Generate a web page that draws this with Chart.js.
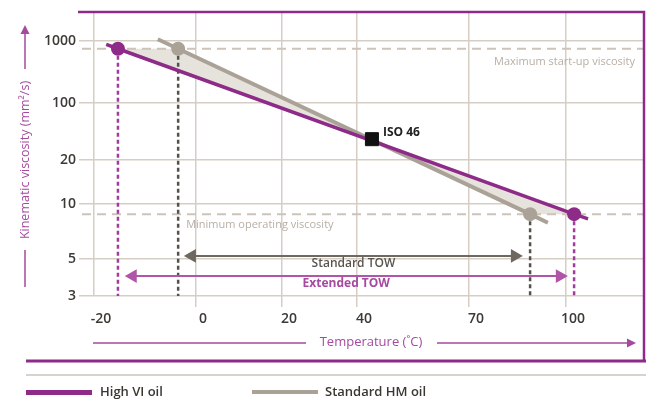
<!DOCTYPE html>
<html>
<head>
<meta charset="utf-8">
<script src="https://cdn.jsdelivr.net/npm/chart.js@4.4.1/dist/chart.umd.min.js"></script>
<style>
  body { margin: 0; background: #fff; }
  #wrap { position: relative; width: 646px; height: 399px; overflow: hidden; font-family: 'Open Sans', sans-serif; }
  #chart { position: absolute; left: 0; top: 0; }
  .swatch { position: absolute; top: 390px; width: 66px; height: 5px; }
  .key { position: absolute; top: 383px; font-size: 13px; line-height: 16px; font-weight: 600; color: #3a3632; white-space: nowrap; }
</style>
</head>
<body>
<div id="wrap">
  <canvas id="chart" width="646" height="399"></canvas>
  <div class="swatch" style="left:26px;background:#8e2a88"></div>
  <div class="key" style="left:100px">High VI oil</div>
  <div class="swatch" style="left:252px;top:390px;height:4px;background:#aaa297"></div>
  <div class="key" style="left:325px">Standard HM oil</div>
</div>
<script>
// axis ticks
const tempTicks = [-20, 0, 20, 40, 70, 100];
const viscTicks = [3, 5, 10, 20, 100, 1000];

// oil lines (temperature in C, viscosity in mm2/s)
const highViTemp = [-17.6, -15.3, 102.5, 106.8];
const highViVisc = [880, 750, 8.8, 8.3];
const hmTemp = [-7.5, -3.5, 88.9, 94.4];
const hmVisc = [1065, 750, 8.8, 7.9];

const isoTemp = [44];
const isoVisc = [36];

// max start-up / min operating viscosity
const limitVisc = [750, 8.8];
const limitSpan = [-22.4, 124];

// operating windows
const standardTowTemp = [-0.8, 84.2];
const standardTowVisc = [5.2, 5.2];
const extendedTowTemp = [-12.4, 98.1];
const extendedTowVisc = [3.95, 3.95];

const purple = '#8e2a88';
const lightPurple = '#a54a9f';
const grey = '#aaa297';

const pts = (xs, ys) => xs.map((x, i) => ({ x: x, y: ys[i] }));

// scale with uneven tick spacing (viscosity-temperature chart paper)
class StopScale extends Chart.LinearScale {
  determineDataLimits() {
    this.min = this.options.min;
    this.max = this.options.max;
  }
  buildTicks() {
    return this.options.stops.map(v => ({ value: v }));
  }
  _knots() {
    const o = this.options;
    const f = o.logStops ? Math.log10 : (v => v);
    const k = [];
    if (o.stops[0] > o.min) k.push([f(o.min), 0]);
    o.stops.forEach((v, i) => k.push([f(v), o.places[i]]));
    if (o.stops[o.stops.length - 1] < o.max) k.push([f(o.max), 1]);
    return k;
  }
  _frac(v) {
    const t = this.options.logStops ? Math.log10(v) : v;
    const k = this._knots();
    let i = 0;
    while (i < k.length - 2 && t > k[i + 1][0]) i++;
    const a = k[i], b = k[i + 1];
    return a[1] + (t - a[0]) / (b[0] - a[0]) * (b[1] - a[1]);
  }
  getPixelForValue(v) {
    const f = this._frac(v);
    return this.isHorizontal() ? this.left + f * this.width : this.bottom - f * this.height;
  }
  getValueForPixel(p) {
    const f = this.isHorizontal() ? (p - this.left) / this.width : (this.bottom - p) / this.height;
    const k = this._knots();
    let i = 0;
    while (i < k.length - 2 && f > k[i + 1][1]) i++;
    const a = k[i], b = k[i + 1];
    const t = a[0] + (f - a[1]) / (b[1] - a[1]) * (b[0] - a[0]);
    return this.options.logStops ? Math.pow(10, t) : t;
  }
}
StopScale.id = 'stops';
StopScale.defaults = Chart.LinearScale.defaults;
Chart.register(StopScale);

const hv = pts(highViTemp, highViVisc);
const hm = pts(hmTemp, hmVisc);
const iso = pts(isoTemp, isoVisc);
const bandTop = [hv[1], hm[1], iso[0], hv[2]];
const bandBottom = [hv[1], iso[0], hm[2], hv[2]];

function dropLine(p, color) {
  return {
    data: [{ x: p.x, y: p.y }, { x: p.x, y: viscTicks[0] }],
    borderColor: color, borderWidth: 2.5, borderDash: [4, 3], pointRadius: 0, order: 8
  };
}
function limitLine(v) {
  return {
    data: pts(limitSpan, [v, v]),
    borderColor: '#cdc3b8', borderWidth: 2, borderDash: [9, 6], pointRadius: 0, order: 9
  };
}
function towArrow(xs, ys, color) {
  return {
    data: pts(xs, ys),
    borderColor: color, backgroundColor: color, borderWidth: 2,
    pointStyle: 'triangle', pointRadius: 6, pointRotation: [-90, 90], order: 7
  };
}

const decor = {
  id: 'decor',
  afterDraw(chart) {
    const ctx = chart.ctx;
    const x = chart.scales.x, y = chart.scales.y;
    ctx.save();
    // frame
    ctx.strokeStyle = purple;
    ctx.lineWidth = 2.5;
    ctx.beginPath();
    ctx.moveTo(78, 12); ctx.lineTo(644, 12); ctx.lineTo(644, 361);
    ctx.stroke();
    ctx.lineWidth = 3;
    ctx.beginPath(); ctx.moveTo(26, 361); ctx.lineTo(646, 361); ctx.stroke();
    ctx.strokeStyle = '#d8d2cb'; ctx.lineWidth = 2;
    ctx.beginPath(); ctx.moveTo(26, 375); ctx.lineTo(646, 375); ctx.stroke();

    // axis titles with arrows
    ctx.strokeStyle = lightPurple; ctx.fillStyle = lightPurple; ctx.lineWidth = 1.5;
    ctx.font = '13px "Open Sans"';
    ctx.textAlign = 'center'; ctx.textBaseline = 'middle';
    ctx.fillText('Temperature (˚C)', 371, 342);
    ctx.beginPath();
    ctx.moveTo(93, 343); ctx.lineTo(306, 343);
    ctx.moveTo(437, 343); ctx.lineTo(628, 343);
    ctx.stroke();
    ctx.beginPath(); ctx.moveTo(636, 343); ctx.lineTo(627, 338.5); ctx.lineTo(627, 347.5); ctx.fill();

    ctx.save();
    ctx.translate(25, 160); ctx.rotate(-Math.PI / 2);
    ctx.font = '12.5px "Open Sans"';
    ctx.fillText('Kinematic viscosity (mm²/s)', 0, 0);
    ctx.restore();
    ctx.beginPath();
    ctx.moveTo(25, 250); ctx.lineTo(25, 287);
    ctx.moveTo(25, 69); ctx.lineTo(25, 33);
    ctx.stroke();
    ctx.beginPath(); ctx.moveTo(25, 25); ctx.lineTo(20.5, 34); ctx.lineTo(29.5, 34); ctx.fill();

    // notes
    ctx.fillStyle = '#b8afa6'; ctx.font = '11px "Open Sans"';
    ctx.textAlign = 'right';
    ctx.fillText('Maximum start-up viscosity', 635, y.getPixelForValue(limitVisc[0]) + 13);
    ctx.textAlign = 'left';
    ctx.fillText('Minimum operating viscosity', x.getPixelForValue(hmTemp[1]) + 8, y.getPixelForValue(limitVisc[1]) + 11);

    ctx.fillStyle = '#222'; ctx.font = 'bold 12px "Open Sans"';
    ctx.fillText('ISO 46', x.getPixelForValue(isoTemp[0]) + 11, y.getPixelForValue(isoVisc[0]) - 7);

    ctx.textAlign = 'center';
    ctx.fillStyle = '#5a544e'; ctx.font = '600 12px "Open Sans"';
    ctx.fillText('Standard TOW', (x.getPixelForValue(standardTowTemp[0]) + x.getPixelForValue(standardTowTemp[1])) / 2,
      y.getPixelForValue(standardTowVisc[0]) + 8);
    ctx.fillStyle = lightPurple; ctx.font = 'bold 12px "Open Sans"';
    ctx.fillText('Extended TOW', (x.getPixelForValue(extendedTowTemp[0]) + x.getPixelForValue(extendedTowTemp[1])) / 2,
      y.getPixelForValue(extendedTowVisc[0]) + 8);
    ctx.restore();
  }
};

new Chart(document.getElementById('chart'), {
  type: 'line',
  data: {
    datasets: [
      { label: 'ISO 46', data: iso, pointStyle: 'rect', pointRadius: 9.2, backgroundColor: '#111', borderColor: '#111', showLine: false, order: 1 },
      { label: 'High VI oil', data: hv, borderColor: purple, backgroundColor: purple, borderWidth: 3.5,
        pointRadius: [0, 7, 7, 0], pointBorderWidth: 0, order: 5 },
      { label: 'Standard HM oil', data: hm, borderColor: grey, backgroundColor: grey, borderWidth: 4,
        pointRadius: [0, 7, 7, 0], pointBorderWidth: 0, order: 6 },
      towArrow(standardTowTemp, standardTowVisc, '#6e6860'),
      towArrow(extendedTowTemp, extendedTowVisc, '#b055a8'),
      dropLine(hv[1], '#a03c9a'),
      dropLine(hv[2], '#a03c9a'),
      dropLine(hm[1], '#55514c'),
      dropLine(hm[2], '#55514c'),
      limitLine(limitVisc[0]),
      limitLine(limitVisc[1]),
      { data: bandTop, borderWidth: 0, pointRadius: 0, backgroundColor: '#e6e2dc', fill: '+1', order: 10 },
      { data: bandBottom, borderWidth: 0, pointRadius: 0, order: 10 }
    ]
  },
  options: {
    responsive: false,
    animation: false,
    events: [],
    layout: { autoPadding: false, padding: { top: 12, right: 2, left: 0, bottom: 0 } },
    plugins: { legend: { display: false }, tooltip: { enabled: false } },
    scales: {
      x: {
        type: 'stops', min: -23, max: 124,
        stops: tempTicks, places: [0.0265, 0.2071, 0.3593, 0.4920, 0.6903, 0.8619],
        afterFit: s => { s.height = 103; s.paddingLeft = 0; s.paddingRight = 0; },
        border: { display: false },
        grid: {
          color: '#d6cec4', lineWidth: 1.5, tickLength: 11,
          tickColor: c => (c.tick && c.tick.value === tempTicks[0]) ? 'rgba(0,0,0,0)' : '#d6cec4'
        },
        ticks: {
          autoSkip: false, maxRotation: 0, padding: 4, labelOffset: 7,
          color: '#3d3935', font: { family: 'Open Sans', size: 14, weight: '600' },
          callback: v => String(v)
        }
      },
      y: {
        type: 'stops', logStops: true, min: 3, max: 2900,
        stops: viscTicks, places: [0, 0.1303, 0.3239, 0.4789, 0.6796, 0.8979],
        afterFit: s => { s.width = 79; s.paddingTop = 0; s.paddingBottom = 0; },
        border: { display: false },
        grid: { color: '#d6cec4', lineWidth: 1.5, drawTicks: false },
        ticks: {
          autoSkip: false, padding: 3,
          color: '#3d3935', font: { family: 'Open Sans', size: 14, weight: '600' },
          callback: v => String(v)
        }
      }
    }
  },
  plugins: [decor]
});
</script>
</body>
</html>
